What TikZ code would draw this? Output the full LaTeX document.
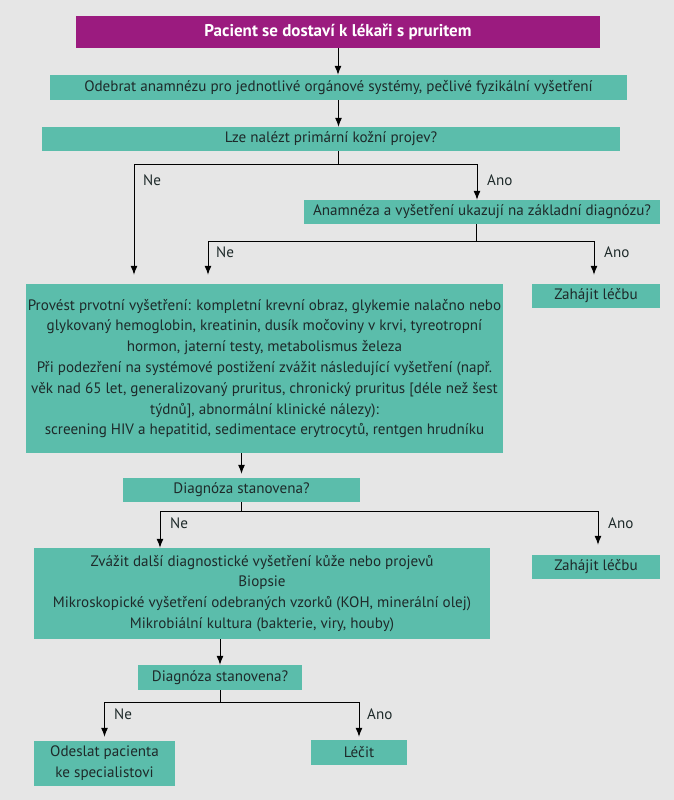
\documentclass[tikz,border=0pt]{standalone}
\usepackage{fontspec}
\setmainfont{PT Sans}
\usetikzlibrary{arrows.meta}
\definecolor{bgcol}{HTML}{E6E6E6}
\definecolor{boxcol}{HTML}{5BBDAB}
\definecolor{titlecol}{HTML}{9B1B7F}
\definecolor{txtcol}{HTML}{1E2A2A}
\newcommand{\boxfont}{\fontsize{15.1}{20.8}\selectfont}
\newcommand{\titlefont}{\fontsize{17}{20}\selectfont\bfseries}

\begin{document}
\begin{tikzpicture}[x=1pt, y=-1pt,
    box/.style={fill=boxcol, text=txtcol, inner sep=0pt, align=center, font=\boxfont},
    lbl/.style={anchor=west, text=txtcol, inner sep=0pt, font=\boxfont},
    arr/.style={-{Latex[length=9pt,width=7pt]}, line width=1pt},
    ln/.style={line width=1pt}]
    % Background
    \fill[bgcol] (0,0) rectangle (674,800);
    \useasboundingbox (0,0) rectangle (674,800);

    % Boxes
    \node[box, fill=titlecol, text=white, font=\titlefont, minimum width=524pt, minimum height=32pt] (start) at (338,32) {Pacient se dostaví k lékaři s pruritem};
    \node[box, minimum width=577pt, minimum height=25pt] (anam) at (338.5,87.5) {Odebrat anamnézu pro jednotlivé orgánové systémy, pečlivé fyzikální vyšetření};
    \node[box, minimum width=578pt, minimum height=24pt] (lze) at (331,139) {Lze nalézt primární kožní projev?};
    \node[box, minimum width=356pt, minimum height=24pt] (zakl) at (482,212) {Anamnéza a vyšetření ukazují na základní diagnózu?};
    \node[box, minimum width=477pt, minimum height=169pt] (prov) at (264.5,368.5) {Provést prvotní vyšetření: kompletní krevní obraz, glykemie nalačno nebo\\ glykovaný hemoglobin, kreatinin, dusík močoviny v krvi, tyreotropní\\ hormon, jaterní testy, metabolismus železa\\ Při podezření na systémové postižení zvážit následující vyšetření (např.\\ věk nad 65 let, generalizovaný pruritus, chronický pruritus [déle než šest\\ týdnů], abnormální klinické nálezy):\\ screening HIV a hepatitid, sedimentace erytrocytů, rentgen hrudníku};
    \node[box, minimum width=128pt, minimum height=24pt] (lecba1) at (596,296) {Zahájit léčbu};
    \node[box, minimum width=237pt, minimum height=24pt] (diag1) at (241.5,490) {Diagnóza stanovena?};
    \node[box, minimum width=456pt, minimum height=91pt] (zvaz) at (262,593.5) {Zvážit další diagnostické vyšetření kůže nebo projevů\\ Biopsie\\ Mikroskopické vyšetření odebraných vzorků (KOH, minerální olej)\\ Mikrobiální kultura (bakterie, viry, houby)};
    \node[box, minimum width=128pt, minimum height=24pt] (lecba2) at (596,567) {Zahájit léčbu};
    \node[box, minimum width=164pt, minimum height=25pt] (diag2) at (220,677.5) {Diagnóza stanovena?};
    \node[box, minimum width=141pt, minimum height=45pt] (odes) at (104.5,763.5) {Odeslat pacienta\\ ke specialistovi};
    \node[box, minimum width=96pt, minimum height=25pt] (lecit) at (359,752.5) {Léčit};

    % Junctions
    \coordinate (lzeJ) at (338,164);
    \coordinate (lzeNe) at (134,164);
    \coordinate (lzeAno) at (477,164);
    \coordinate (zaklJ) at (476,241);
    \coordinate (zaklNe) at (208,241);
    \coordinate (zaklAno) at (594,241);
    \coordinate (diagJ) at (241.5,511);
    \coordinate (diagNe) at (160,511);
    \coordinate (diagAno) at (598,511);
    \coordinate (diag2J) at (220,702);
    \coordinate (diag2Ne) at (104.5,702);
    \coordinate (diag2Ano) at (359,702);

    % Connectors
    \draw[arr] (start.south) -- (start.south |- anam.north);
    \draw[arr] (anam.south) -- (anam.south |- lze.north);
    \draw[ln] (lzeJ |- lze.south) -- (lzeJ);
    \draw[arr, shorten >=9pt] (lzeJ) -- (lzeNe) -- (lzeNe |- prov.north);
    \draw[arr] (lzeJ) -- (lzeAno) -- (lzeAno |- zakl.north);
    \draw[ln] (zaklJ |- zakl.south) -- (zaklJ);
    \draw[arr, shorten >=9pt] (zaklJ) -- (zaklNe) -- (zaklNe |- prov.north);
    \draw[arr, shorten >=9pt] (zaklJ) -- (zaklAno) -- (zaklAno |- lecba1.north);
    \draw[arr, shorten >=4pt] (diag1.north |- prov.south) -- (diag1.north);
    \draw[ln] (diag1.south) -- (diagJ);
    \draw[arr] (diagJ) -- (diagNe) -- (diagNe |- zvaz.north);
    \draw[arr, shorten >=10pt] (diagJ) -- (diagAno) -- (diagAno |- lecba2.north);
    \draw[arr] (diag2.north |- zvaz.south) -- (diag2.north);
    \draw[ln] (diag2.south) -- (diag2J);
    \draw[arr, shorten >=4pt] (diag2J) -- (diag2Ne) -- (diag2Ne |- odes.north);
    \draw[arr, shorten >=3pt] (diag2J) -- (diag2Ano) -- (diag2Ano |- lecit.north);

    % Labels
    \node[lbl] (ne1) at (143,180) {Ne};
    \node[lbl] (ano1) at (487,180) {Ano};
    \node[lbl] (ne2) at (216,252) {Ne};
    \node[lbl] (ano2) at (604,252) {Ano};
    \node[lbl] (ne3) at (170,523) {Ne};
    \node[lbl] (ano3) at (608,523) {Ano};
    \node[lbl] (ne4) at (114,714) {Ne};
    \node[lbl] (ano4) at (367,714) {Ano};
\end{tikzpicture}
\end{document}
